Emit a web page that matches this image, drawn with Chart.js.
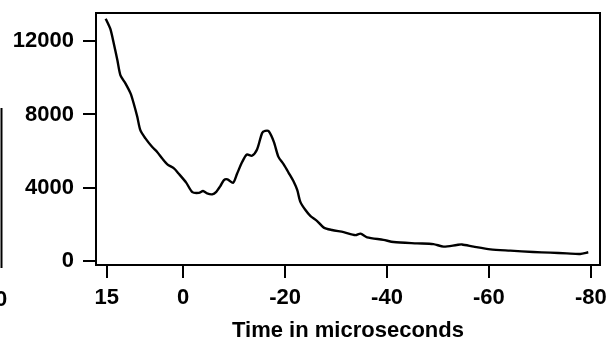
<!DOCTYPE html>
<html>
<head>
<meta charset="utf-8">
<script src="https://cdn.jsdelivr.net/npm/chart.js@4"></script>
<style>
  html, body { margin: 0; padding: 0; background: #fff; }
  #wrap { width: 613px; height: 353px; position: relative; }
</style>
</head>
<body>
<div id="wrap"><canvas id="trace"></canvas></div>
<script>
// time axis runs from +15 down to -80 microseconds
const times = [15.2, 14.3, 13.6, 12.9, 12.3, 11.3, 10.3, 9.7, 9.0, 8.4, 7.4, 6.1, 5.1, 4.1, 3.1, 1.8, 0.9,
  -0.6, -1.8, -3.1, -3.9, -4.7, -5.7, -6.5, -7.3, -8.0, -8.7, -9.8, -10.6, -11.6, -12.5, -13.5, -14.5,
  -15.5, -16.1, -16.8, -17.8, -18.7, -19.7, -20.7, -21.7, -22.4, -23.0, -24.0, -25.0, -26.3, -27.6,
  -29.2, -31.5, -33.8, -34.8, -36.1, -39.3, -41.3, -45.9, -49.1, -51.1, -53.7, -54.7, -57.0, -60.3,
  -64.2, -68.7, -72.0, -75.3, -77.9, -79.5];
const counts = [13240, 12690, 11870, 10960, 10140, 9690, 9140, 8600, 7870, 7140, 6690, 6230, 5950, 5590, 5270, 5050, 4770,
  4270, 3750, 3710, 3810, 3680, 3630, 3770, 4080, 4410, 4450, 4260, 4770, 5410, 5810, 5740, 6080,
  6990, 7100, 7080, 6500, 5680, 5280, 4810, 4320, 3860, 3220, 2770, 2440, 2170, 1810,
  1680, 1560, 1400, 1480, 1280, 1140, 1020, 950, 910, 770, 860, 890, 770, 620,
  550, 475, 440, 400, 370, 460];
const xTicks = [15, 0, -20, -40, -60, -80];
const yTicks = [0, 4000, 8000, 12000];
const xTitle = 'Time in microseconds';

const FONT = '"Liberation Sans", Arial, sans-serif';

// top/right edges of the box + bits of the neighbouring figure cut off at the left
const framePlugin = {
  id: 'frame',
  afterDraw(chart) {
    const { ctx, chartArea: a } = chart;
    ctx.save();
    ctx.strokeStyle = '#000';
    ctx.lineWidth = 2;
    ctx.beginPath();
    ctx.moveTo(a.left, a.top);
    ctx.lineTo(a.right, a.top);
    ctx.lineTo(a.right, a.bottom);
    ctx.stroke();
    ctx.beginPath();
    ctx.moveTo(1.5, 108);
    ctx.lineTo(1.5, 268);
    ctx.stroke();
    ctx.fillStyle = '#000';
    ctx.font = 'bold 22px ' + FONT;
    ctx.textBaseline = 'middle';
    ctx.textAlign = 'left';
    ctx.fillText('0', -5, 300);
    ctx.restore();
  }
};

new Chart(document.getElementById('trace'), {
  type: 'line',
  data: {
    datasets: [{
      data: times.map((t, i) => ({ x: t, y: counts[i] })),
      borderColor: '#000',
      borderWidth: 2.4,
      pointRadius: 0,
      tension: 0.25,
      fill: false
    }]
  },
  options: {
    responsive: true,
    maintainAspectRatio: false,
    animation: false,
    layout: { padding: { top: 13, right: 13, left: 0, bottom: 0 } },
    plugins: { legend: { display: false }, tooltip: { enabled: false } },
    scales: {
      x: {
        type: 'linear',
        reverse: true,
        min: -81.8,
        max: 17.1,
        afterBuildTicks: s => { s.ticks = xTicks.map(v => ({ value: v })); },
        afterFit: s => { s.height = 88; s.paddingLeft = 0; s.paddingRight = 0; },
        grid: { drawOnChartArea: false, drawTicks: true, tickLength: 13, color: '#000', lineWidth: 2 },
        border: { display: true, color: '#000', width: 2 },
        ticks: { color: '#000', font: { family: FONT, size: 22, weight: 'bold' }, padding: 7, maxRotation: 0, callback: v => String(v) },
        title: {
          display: true,
          text: xTitle,
          color: '#000',
          font: { family: FONT, size: 22, weight: 'bold' },
          padding: { top: 0, bottom: 9 }
        }
      },
      y: {
        min: -235,
        max: 13550,
        afterBuildTicks: s => { s.ticks = yTicks.map(v => ({ value: v })); },
        afterFit: s => { s.width = 96; s.paddingTop = 0; s.paddingBottom = 0; },
        grid: { drawOnChartArea: false, drawTicks: true, tickLength: 13, color: '#000', lineWidth: 2 },
        border: { display: true, color: '#000', width: 2 },
        ticks: { color: '#000', font: { family: FONT, size: 22, weight: 'bold' }, padding: 9, callback: v => String(v) }
      }
    }
  },
  plugins: [framePlugin]
});
</script>
</body>
</html>
